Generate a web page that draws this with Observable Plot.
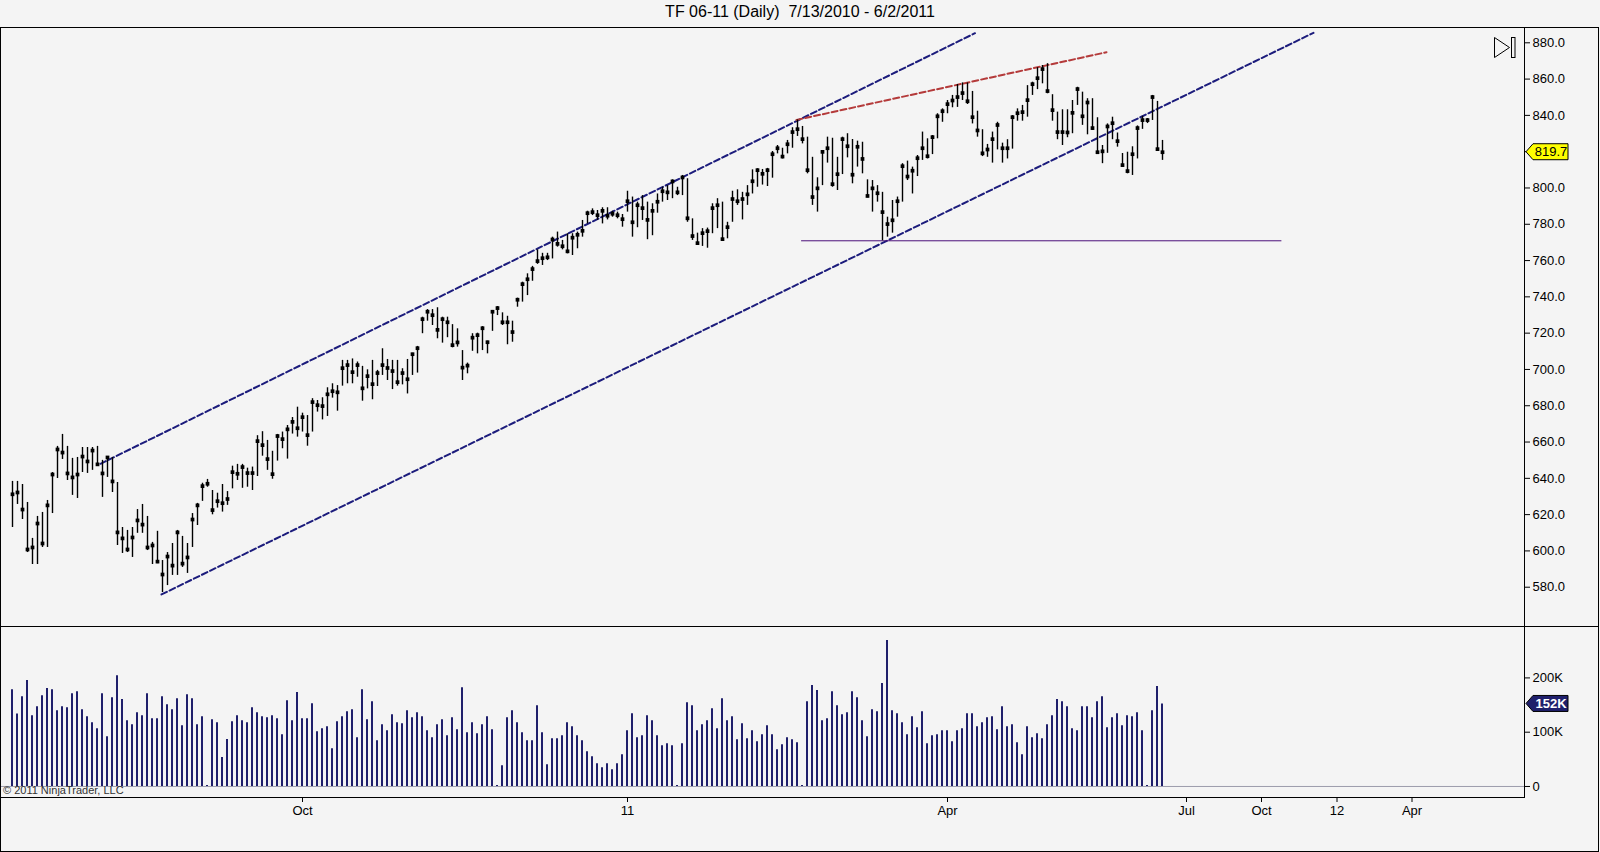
<!DOCTYPE html>
<html>
<head>
<meta charset="utf-8">
<script src="https://cdn.jsdelivr.net/npm/d3@7"></script>
<script src="https://cdn.jsdelivr.net/npm/@observablehq/plot@0.6"></script>
<style>
  html, body { margin: 0; padding: 0; background: #f4f4f4; }
  #wrap { position: relative; width: 1600px; height: 852px; background: #f4f4f4; overflow: hidden;
          font-family: "Liberation Sans", Arial, sans-serif; }
  #title { position: absolute; top: 3px; left: 0; width: 1600px; text-align: center; font-size: 16px;
           white-space: pre; color: #000; }
  #price { position: absolute; left: 0; top: 27px; }
  #volume { position: absolute; left: 0; top: 626px; }
  #outer { position: absolute; left: 0; top: 27px; width: 1599px; height: 825px; border: 1px solid #000;
           box-sizing: border-box; pointer-events: none; }
  #sep { position: absolute; left: 1524px; top: 626px; width: 75px; height: 1px; background: #000; }
  #copy { position: absolute; left: 3px; top: 784px; font-size: 11px; color: #333; }
</style>
</head>
<body>
<div id="wrap">
  <div id="title"></div>
  <div id="price"></div>
  <div id="volume"></div>
  <div id="sep"></div>
  <div id="copy">© 2011 NinjaTrader, LLC</div>
  <div id="outer"></div>
</div>
<script>
// ---------- data (daily bars 7/13/2010 - 6/2/2011, bar index 0..230) ----------
const chartTitle = "TF 06-11 (Daily)  7/13/2010 - 6/2/2011";

const high = [
 638.3,638.3,636.6,626.7,606.9,619.0,621.2,627.8,643.2,657.6,
 664.2,657.6,651.0,651.5,657.0,657.0,657.0,657.6,649.9,652.0,
 651.5,637.7,612.9,611.3,612.9,622.8,625.6,619.0,604.7,610.8,
 594.7,599.1,604.1,611.3,608.0,604.1,620.6,626.2,637.3,639.4,
 633.3,631.8,636.6,632.7,646.7,647.7,647.7,645.6,646.2,663.5,
 665.7,660.9,654.9,664.2,665.5,669.1,673.5,679.2,675.9,674.6,
 683.9,682.9,684.4,689.9,692.1,691.1,705.0,705.0,705.8,704.1,
 701.7,699.8,705.0,699.5,711.4,705.5,705.0,705.0,700.4,705.5,
 708.9,712.7,728.8,733.0,733.0,734.0,728.8,728.8,724.7,722.4,
 710.4,703.5,719.7,720.0,723.6,715.6,732.5,734.7,731.2,729.3,
 726.6,739.3,748.1,752.7,756.8,765.9,764.0,764.0,772.9,775.7,
 771.1,774.8,774.8,775.7,782.1,787.2,788.5,787.6,789.1,789.1,
 787.2,786.7,785.4,798.2,795.0,792.2,795.8,792.2,791.3,796.7,
 800.4,801.3,804.5,800.4,806.9,805.1,783.0,775.1,777.6,777.9,
 791.3,794.1,792.2,781.1,798.2,799.0,797.6,801.3,810.0,810.6,
 810.2,810.8,820.1,823.4,821.9,826.2,833.2,837.5,833.9,828.0,
 816.9,805.6,820.6,828.0,827.4,816.9,828.0,829.9,826.7,825.8,
 825.2,804.5,804.1,801.3,797.6,783.9,793.1,795.0,813.4,814.8,
 811.5,817.9,830.8,827.1,828.9,840.9,843.6,848.2,851.0,857.0,
 857.9,857.9,853.2,842.3,832.1,824.0,830.8,836.2,824.7,826.6,
 839.9,843.6,845.5,856.4,858.3,866.3,867.5,868.5,851.4,841.8,
 843.1,843.1,848.2,855.5,852.8,849.2,849.2,838.7,823.4,835.3,
 839.0,830.3,819.0,819.7,822.7,834.2,839.5,838.3,851.0,847.7,
 826.2
];
const low = [
 612.9,625.6,617.3,599.1,592.5,592.5,601.9,601.9,620.6,639.9,
 650.4,638.8,630.6,628.9,643.2,642.7,644.4,647.1,629.5,640.5,
 632.2,603.0,598.6,599.1,596.4,609.7,609.7,600.2,592.5,593.0,
 577.1,580.9,586.5,586.5,590.9,587.6,601.9,614.0,627.3,635.1,
 619.9,623.6,621.4,625.1,634.2,638.8,634.5,635.1,633.3,641.0,
 652.2,644.4,639.5,649.5,656.3,650.6,664.4,662.7,665.5,657.7,
 665.5,676.5,672.2,674.1,684.2,677.0,690.8,692.1,692.1,695.7,
 682.5,689.3,683.3,690.6,696.7,693.9,688.9,690.8,691.5,686.5,
 696.7,698.0,719.7,726.6,724.2,716.9,714.5,717.5,711.9,712.3,
 693.9,697.6,710.0,708.6,710.4,708.6,721.0,729.7,724.2,713.6,
 715.0,734.3,737.1,740.7,748.6,757.9,757.3,760.0,760.9,767.4,
 765.9,763.7,762.8,766.5,772.9,780.2,784.8,782.1,780.2,782.4,
 783.9,783.0,778.4,786.7,772.9,778.1,782.1,771.5,773.7,786.1,
 792.2,793.1,794.1,795.8,795.8,781.1,771.1,768.9,767.8,766.8,
 774.8,777.6,770.7,772.0,781.1,790.4,782.4,790.4,796.7,800.4,
 801.6,800.8,805.4,818.8,816.0,818.8,821.9,828.4,824.3,807.8,
 790.4,786.7,801.3,813.7,800.4,798.6,807.4,816.6,802.3,811.5,
 807.8,794.6,786.7,792.2,770.9,772.9,775.1,783.9,792.2,804.1,
 796.7,806.3,815.2,816.0,818.4,827.1,836.2,840.9,844.2,844.4,
 848.2,846.0,835.3,828.0,817.3,816.9,813.7,821.0,813.7,816.0,
 821.4,836.8,836.8,839.0,851.0,854.2,857.4,851.9,836.8,826.6,
 823.4,827.7,829.9,845.5,834.5,829.3,831.7,818.8,813.4,819.1,
 826.6,822.5,811.5,807.8,806.9,816.0,832.3,835.5,837.2,820.2,
 815.2
];
const close = [
 631.2,632.2,622.8,600.8,601.9,615.1,604.1,625.1,642.1,655.9,
 654.2,642.7,640.5,642.1,652.0,649.3,655.3,647.7,642.7,651.5,
 638.3,610.2,606.9,600.8,607.4,616.8,614.5,601.9,603.0,594.1,
 587.0,596.9,591.9,610.2,593.0,596.4,617.3,625.1,635.7,637.0,
 622.5,627.4,626.3,628.6,643.4,642.5,646.2,642.9,642.9,660.5,
 658.3,650.6,642.3,663.3,661.6,667.0,671.1,667.6,673.7,663.8,
 682.0,680.3,679.8,686.3,688.0,687.4,700.7,702.4,698.5,702.4,
 689.6,696.3,691.9,698.0,702.4,700.8,699.1,693.0,698.0,694.6,
 708.4,711.7,727.7,731.8,729.9,721.8,727.7,726.0,713.4,714.9,
 701.0,702.1,717.5,718.9,722.7,715.0,731.8,733.8,726.0,726.0,
 720.6,738.4,747.0,749.7,755.3,759.7,761.3,761.8,771.6,769.2,
 767.9,765.1,772.6,774.2,776.4,786.1,786.7,785.0,787.4,784.7,
 785.8,785.0,782.8,792.7,781.1,790.5,788.9,782.4,787.4,792.4,
 798.2,797.6,803.6,797.6,805.8,783.3,773.5,769.6,775.1,776.2,
 788.9,790.5,771.8,778.4,793.9,792.7,793.9,796.5,803.7,809.8,
 807.8,809.8,818.6,821.9,817.3,824.1,830.8,832.4,826.9,809.8,
 795.0,799.8,819.9,821.9,802.1,807.6,826.9,823.0,807.3,822.7,
 816.0,795.6,799.8,797.1,786.7,780.1,782.2,792.7,812.0,806.3,
 809.5,816.4,821.9,817.5,828.0,839.5,842.3,846.2,848.2,850.1,
 852.3,847.8,839.0,831.7,819.1,821.2,826.9,834.7,821.9,821.9,
 839.0,841.2,841.8,848.4,857.2,860.5,865.5,853.4,842.9,830.8,
 830.8,830.6,841.4,854.5,839.5,847.1,833.0,819.7,820.2,833.9,
 835.7,825.8,812.6,809.3,818.6,833.0,837.4,837.4,850.1,821.4,
 819.7
];
// volume in thousands of contracts
const volume = [
 178.4,133.5,165.5,195.0,130.4,147.0,167.3,180.3,178.4,139.7,
 147.0,145.2,171.0,174.7,141.5,128.6,117.5,106.4,171.0,91.7,
 163.6,204.2,160.0,121.2,113.8,136.0,130.4,171.0,124.9,124.9,
 165.5,150.7,141.5,161.8,112.0,169.2,161.8,113.8,128.6,2,
 123.0,117.5,53.5,86.7,119.3,130.4,121.2,117.5,145.2,136.0,
 128.6,126.7,130.4,124.9,95.4,158.1,121.2,172.9,124.9,124.9,
 152.6,100.9,106.4,110.1,69.5,119.3,128.6,137.8,141.5,89.8,
 178.4,123.0,156.3,84.3,113.8,102.7,132.3,117.5,115.7,139.7,
 126.7,136.0,128.6,102.7,89.8,113.8,123.0,93.5,126.7,104.6,
 182.1,99.0,117.5,97.2,113.8,128.6,104.6,2,38.1,126.7,
 139.7,117.5,99.0,84.3,84.3,148.9,99.0,40.0,88.0,88.0,
 93.5,117.5,110.1,93.5,84.3,64.0,54.8,41.8,34.5,41.8,
 30.8,41.8,58.4,102.7,134.1,89.8,93.5,130.4,121.2,93.5,
 75.1,78.7,75.1,2,78.7,154.4,148.9,102.7,113.8,121.2,
 143.3,106.4,161.8,121.2,128.6,86.1,115.7,88.0,102.7,82.4,
 95.4,112.0,95.4,67.7,76.9,89.8,86.1,80.6,2,156.3,
 185.8,176.6,121.2,124.9,174.7,148.9,132.3,136.0,174.7,163.6,
 121.2,91.7,141.5,137.8,189.5,268.8,139.7,134.1,117.5,95.4,
 128.6,108.3,137.8,78.7,93.5,95.4,102.7,102.7,82.4,102.7,
 106.4,134.1,134.1,110.1,117.5,126.7,128.6,104.6,147.0,110.1,
 113.8,80.6,58.4,110.1,89.8,97.2,88.0,113.8,130.4,160.0,
 156.3,147.0,106.4,102.7,147.0,147.0,126.7,156.3,165.5,108.3,
 126.7,134.1,112.0,130.4,128.6,136.0,102.7,2,139.7,184.0,
 152.0
];

// drawing-tool lines: [bar index, price]
const upperChannel = [[17.6, 648.0], [192.5, 885.3]];
const lowerChannel = [[29.8, 576.0], [260.2, 885.5]];
const redTrend     = [[156.8, 837.5], [218.8, 874.8]];
const supportLine  = [[157.8, 770.9], [253.7, 770.9]];

// axes
const priceTicks = [580, 600, 620, 640, 660, 680, 700, 720, 740, 760, 780, 800, 820, 840, 860, 880];
const volTicks = [0, 100, 200];
const xTickPos = [58, 123, 187, 234.8, 249.8, 264.9, 279.9];
const xTickLabels = ["Oct", "11", "Apr", "Jul", "Oct", "12", "Apr"];

// ---------- build ----------
const FONT = "'Liberation Sans', Arial, sans-serif";
const BLUE = "#1c1c7c";
const RED = "#b43a3a";
const PURPLE = "#4b0f7a";
const VOLC = "#1f1f6b";
const xDomain = [-2.4, 302.4];

document.getElementById("title").textContent = chartTitle;

const n = close.length;
const lastClose = close[n - 1];
const bars = d3.range(n).map(i => ({i, high: high[i], low: low[i], close: close[i], vol: volume[i]}));
const toPts = arr => arr.map(([i, p]) => ({i, p}));

const priceChart = Plot.plot({
  width: 1600, height: 599,
  marginLeft: 0, marginRight: 76, marginTop: 0, marginBottom: 0,
  style: {background: "transparent", fontSize: "13px", fontFamily: FONT, color: "#000"},
  x: {domain: xDomain, axis: null},
  y: {domain: [558.35, 888.43], ticks: priceTicks,
      // the tick label hidden behind the last-price marker is left blank
      tickFormat: d => Math.abs(d - lastClose) < 6 ? "" : d.toFixed(1),
      axis: "right", tickSize: 5, tickPadding: 3, label: null},
  marks: [
    Plot.line(toPts(upperChannel), {x: "i", y: "p", stroke: BLUE, strokeWidth: 2, strokeDasharray: "6,3"}),
    Plot.line(toPts(lowerChannel), {x: "i", y: "p", stroke: BLUE, strokeWidth: 2, strokeDasharray: "6,3"}),
    Plot.line(toPts(redTrend), {x: "i", y: "p", stroke: RED, strokeWidth: 2, strokeDasharray: "6,3"}),
    Plot.line(toPts(supportLine), {x: "i", y: "p", stroke: PURPLE, strokeWidth: 1}),
    Plot.ruleX(bars, {x: "i", y1: "low", y2: "high", stroke: "#000", strokeWidth: 1.4}),
    Plot.dot(bars, {x: "i", y: "close", symbol: "square", r: 2.1, fill: "#000", stroke: null}),
    Plot.frame({stroke: "#000"})
  ]
});
document.getElementById("price").appendChild(priceChart);

const volChart = Plot.plot({
  width: 1600, height: 226,
  marginLeft: 0, marginRight: 76, marginTop: 0, marginBottom: 55,
  style: {background: "transparent", fontSize: "13px", fontFamily: FONT, color: "#000"},
  x: {domain: xDomain, ticks: xTickPos, tickFormat: d => xTickLabels[xTickPos.indexOf(d)],
      tickSize: 5, tickPadding: 3, label: null},
  y: {domain: [-20.3, 294.7], ticks: volTicks, tickFormat: d => d === 0 ? "0" : d + "K", axis: "right",
      tickSize: 5, tickPadding: 3, label: null},
  marks: [
    Plot.ruleY([0], {stroke: "#9c9cab"}),
    Plot.ruleX(bars, {x: "i", y1: 0, y2: "vol", stroke: VOLC, strokeWidth: 2, dx: -0.5}),
    Plot.frame({stroke: "#000"})
  ]
});
document.getElementById("volume").appendChild(volChart);

// ---------- last-value markers on the right axis ----------
function marker(chart, value, text, fill, color, weight) {
  const y = chart.scale("y").apply(value);
  const xr = 1524;
  const g = d3.select(chart).append("g");
  g.append("path")
    .attr("d", `M${xr + 2},${y} L${xr + 9},${y - 8} H${xr + 44} V${y + 8} H${xr + 9} Z`)
    .attr("fill", fill).attr("stroke", "#000").attr("stroke-width", 1);
  g.append("text").attr("x", xr + 27).attr("y", y).attr("dy", "0.36em")
    .attr("text-anchor", "middle").attr("fill", color)
    .attr("font-size", 13).attr("font-weight", weight)
    .attr("font-family", FONT).text(text);
}
marker(priceChart, lastClose, lastClose.toFixed(1), "#ffff00", "#000", "normal");
marker(volChart, volume[n - 1], Math.round(volume[n - 1]) + "K", VOLC, "#fff", "bold");

// "go to last bar" icon in the upper right corner
const icon = d3.select(priceChart).append("g").attr("fill", "none").attr("stroke", "#000").attr("stroke-width", 1);
icon.append("path").attr("d", "M1494.5,10.5 L1509.5,20.5 L1494.5,30.5 Z");
icon.append("rect").attr("x", 1511.5).attr("y", 10.5).attr("width", 3.5).attr("height", 20);
</script>
</body>
</html>
